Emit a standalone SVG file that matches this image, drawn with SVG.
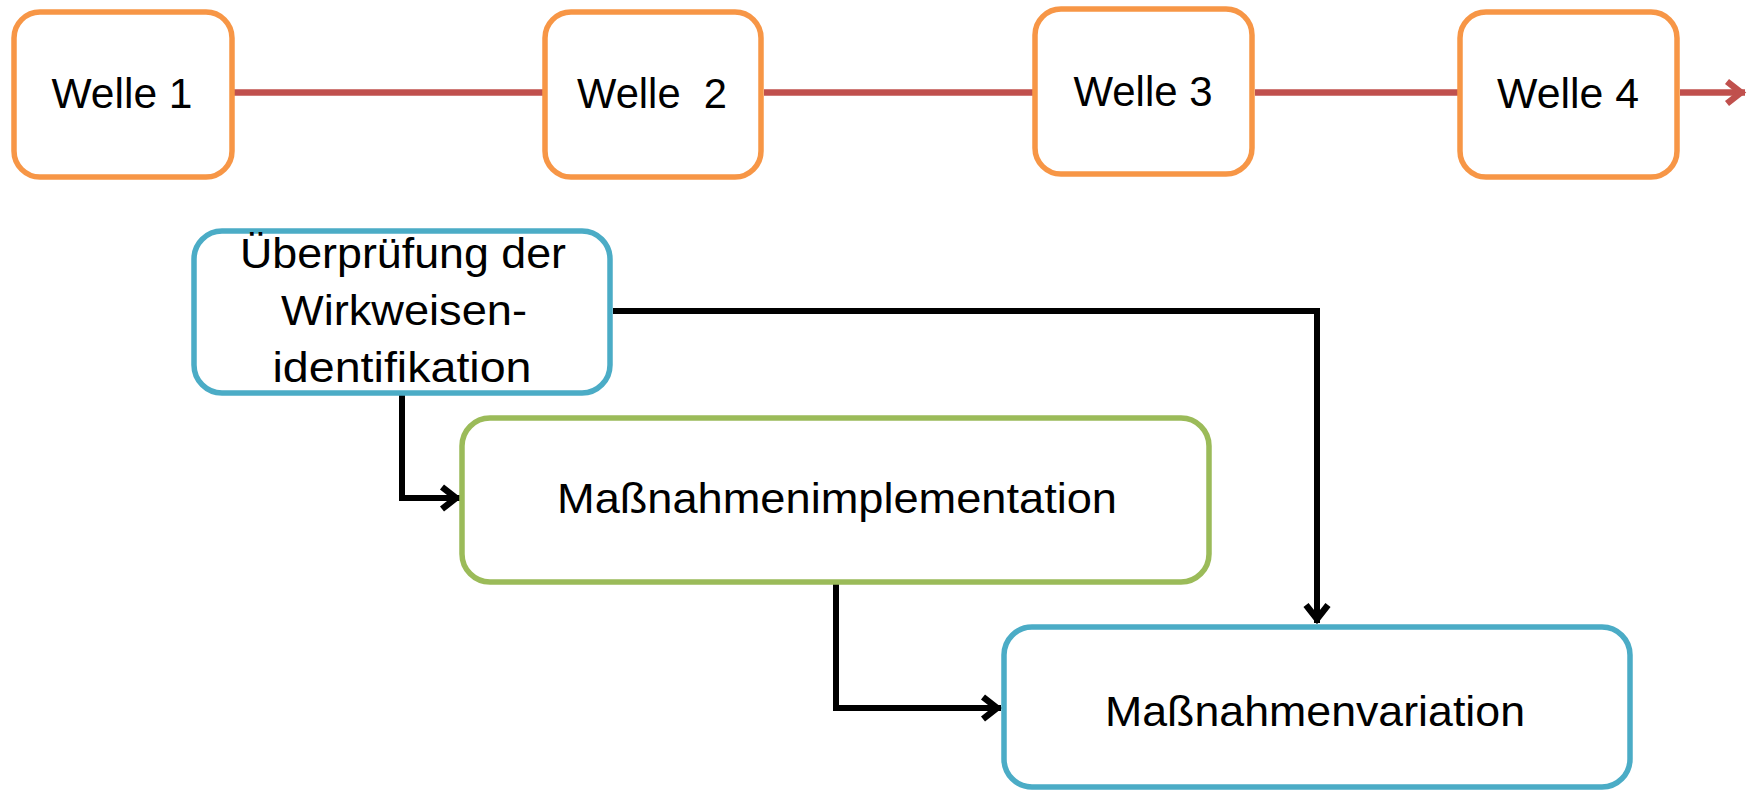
<svg xmlns="http://www.w3.org/2000/svg" width="1748" height="792" viewBox="0 0 1748 792">
<style>
.box{fill:#fff;stroke-width:5.5}
.wave{stroke:#F79646}
.blue{stroke:#4BACC6}
.green{stroke:#9BBB59}
.lbl{font-family:"Liberation Sans",Arial,sans-serif;font-size:42px;fill:#000;text-anchor:middle;white-space:pre}
.red{fill:none;stroke:#C0504D;stroke-width:6.5}
.blk{fill:none;stroke:#000;stroke-width:6;stroke-linejoin:miter}
</style>
<defs>
<marker id="ah" viewBox="-24 -15 26 30" markerWidth="26" markerHeight="30" refX="0" refY="0" orient="auto" markerUnits="userSpaceOnUse">
<path d="M-18,-11 L-4,0 L-18,11" fill="none" stroke="#000" stroke-width="6.5"/>
</marker>
<marker id="ahr" viewBox="-24 -15 26 30" markerWidth="26" markerHeight="30" refX="0" refY="0" orient="auto" markerUnits="userSpaceOnUse">
<path d="M-18,-11 L-4,0 L-18,11" fill="none" stroke="#C0504D" stroke-width="6.5"/>
</marker>
</defs>
<rect width="1748" height="792" fill="#fff"/>
<g id="connectors">
<path class="red" d="M234,92.5 H543"/>
<path class="red" d="M764,92.5 H1033"/>
<path class="red" d="M1255,92.5 H1458"/>
<path class="red" d="M1680,92.5 H1745" marker-end="url(#ahr)"/>
<path class="blk" d="M613,311 H1317 V623" marker-end="url(#ah)"/>
<path class="blk" d="M402,393 V498 H460" marker-end="url(#ah)"/>
<path class="blk" d="M836,582 V708 H1001" marker-end="url(#ah)"/>
</g>
<g id="welle1">
<rect class="box wave" x="14" y="12" width="218" height="165" rx="26"/>
<text class="lbl" x="122" y="108" textLength="141" lengthAdjust="spacingAndGlyphs">Welle 1</text>
</g>
<g id="welle2">
<rect class="box wave" x="545" y="12" width="216" height="165" rx="26"/>
<text class="lbl" x="652" y="108" textLength="150" lengthAdjust="spacingAndGlyphs">Welle  2</text>
</g>
<g id="welle3">
<rect class="box wave" x="1035" y="9" width="217" height="165" rx="26"/>
<text class="lbl" x="1143" y="106" textLength="139" lengthAdjust="spacingAndGlyphs">Welle 3</text>
</g>
<g id="welle4">
<rect class="box wave" x="1460" y="12" width="217" height="165" rx="26"/>
<text class="lbl" x="1568" y="108" textLength="142" lengthAdjust="spacingAndGlyphs">Welle 4</text>
</g>
<g id="ueberpruefung">
<rect class="box blue" x="194" y="231" width="416" height="162" rx="28"/>
<text class="lbl" x="403" y="268" textLength="326" lengthAdjust="spacingAndGlyphs">Überprüfung der</text>
<text class="lbl" x="404" y="325" textLength="246" lengthAdjust="spacingAndGlyphs">Wirkweisen-</text>
<text class="lbl" x="402" y="382" textLength="259" lengthAdjust="spacingAndGlyphs">identifikation</text>
</g>
<g id="implementation">
<rect class="box green" x="462" y="418" width="747" height="164" rx="28"/>
<text class="lbl" x="837" y="513" textLength="560" lengthAdjust="spacingAndGlyphs">Maßnahmenimplementation</text>
</g>
<g id="variation">
<rect class="box blue" x="1004" y="627" width="626" height="160" rx="28"/>
<text class="lbl" x="1315" y="726" textLength="420" lengthAdjust="spacingAndGlyphs">Maßnahmenvariation</text>
</g>
</svg>
